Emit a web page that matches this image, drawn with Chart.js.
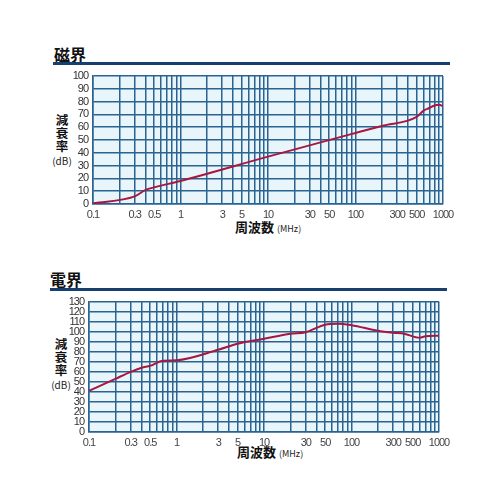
<!DOCTYPE html>
<html>
<head>
<meta charset="utf-8">
<script src="https://cdn.jsdelivr.net/npm/chart.js@4"></script>
<style>
body { margin: 0; width: 500px; height: 500px; background: #fff; position: relative; overflow: hidden;
       font-family: "Noto Sans CJK JP", sans-serif; color: #111; }
.title { position: absolute; font-size: 16px; font-weight: bold; line-height: 16px; }
.rule { position: absolute; height: 3px; background: #173f70; }
.ytitle { position: absolute; width: 30px; text-align: center; font-weight: bold; font-size: 12.5px; line-height: 13px; }
.ytitle span { display: block; font-weight: normal; font-size: 10px; line-height: 12px; margin-top: 3px; color: #222; }
.xtitle { position: absolute; font-weight: bold; font-size: 13px; line-height: 14px; white-space: nowrap; }
.xtitle span { font-weight: normal; font-size: 9px; color: #222; }
.box { position: absolute; left: 0; }
</style>
</head>
<body>
<div class="title" style="left:54px; top:46px;">磁界</div>
<div class="rule" style="left:53px; top:62px; width:397px;"></div>
<div class="ytitle" style="left:47px; top:113px;">減<br>衰<br>率<span>(dB)</span></div>
<div class="xtitle" style="left:235px; top:220px;">周波数 <span>(MHz)</span></div>
<div class="box" style="top:60px;"><canvas id="magChart" width="500" height="180"></canvas></div>

<div class="title" style="left:50px; top:271px;">電界</div>
<div class="rule" style="left:50px; top:288px; width:397px;"></div>
<div class="ytitle" style="left:46px; top:337px;">減<br>衰<br>率<span>(dB)</span></div>
<div class="xtitle" style="left:237px; top:445px;">周波数 <span>(MHz)</span></div>
<div class="box" style="top:290px;"><canvas id="elecChart" width="500" height="170"></canvas></div>

<script>
// 磁界
const freqMag = [0.1, 0.3, 0.4, 0.5, 1, 10, 100, 200, 500, 600, 700, 800, 900, 1000];
const magDb = [0.5, 6, 11, 13, 18, 37, 55.5, 61, 68, 73, 75, 77, 77.5, 76.5];

// 電界
const freqElec = [0.1, 0.2, 0.3, 0.4, 0.5, 0.7, 1, 3, 5, 10, 20, 30, 50, 70, 100, 200, 300, 400, 600, 700, 1000];
const elecDb = [41, 53, 60, 64, 66, 71, 71.5, 82, 88, 93, 98, 99.5, 107, 108, 106.5, 101, 99, 98, 94, 95.5, 96];

const xLabels = [0.1, 0.3, 0.5, 1, 3, 5, 10, 30, 50, 100, 300, 500, 1000];
const decades = [0.1, 1, 10, 100];
const steps = [1, 2, 3, 4, 5, 6, 7, 8, 9];

const gridVals = [];
decades.forEach(d => steps.forEach(k => gridVals.push(Number((k * d).toPrecision(3)))));
gridVals.push(1000);

const gridColor = '#2a6390';
const tickFont = { family: "'Liberation Sans', Arial, sans-serif", size: 11 };

// light blue plot fill + tighter digits like the printed chart
const plotBg = {
    id: 'plotBg',
    beforeDraw(chart) {
        const a = chart.chartArea;
        const c = chart.ctx;
        c.save();
        c.fillStyle = '#e8f6fc';
        c.fillRect(a.left, a.top, a.right - a.left, a.bottom - a.top);
        c.restore();
        c.letterSpacing = '-1px';
    }
};

const makeChart = (id, freqs, values, yMax, box) => {
    const ctx = document.getElementById(id).getContext('2d');
    new Chart(ctx, {
        type: 'line',
        data: {
            datasets: [{
                data: freqs.map((f, i) => ({ x: f, y: values[i] })),
                borderColor: '#a8173e',
                borderWidth: 2,
                pointRadius: 0,
                cubicInterpolationMode: 'monotone',
            }],
        },
        options: {
            responsive: false,
            animation: false,
            layout: { padding: { top: box.top, right: box.right, left: 0, bottom: 0 } },
            plugins: { legend: { display: false }, tooltip: { enabled: false } },
            scales: {
                x: {
                    type: 'logarithmic',
                    min: 0.1,
                    max: 1000,
                    afterBuildTicks: axis => { axis.ticks = gridVals.map(v => ({ value: v })); },
                    afterFit: axis => { axis.height = box.xh; },
                    grid: { color: gridColor, lineWidth: 1.5, drawTicks: false },
                    border: { color: gridColor, width: 1.5 },
                    ticks: {
                        autoSkip: false, maxRotation: 0, padding: 4,
                        font: tickFont, color: '#444',
                        callback: v => xLabels.includes(v) ? String(v) : '',
                    },
                },
                y: {
                    min: 0,
                    max: yMax,
                    afterFit: axis => { axis.width = box.yw; },
                    grid: { color: gridColor, lineWidth: 1.5, drawTicks: false },
                    border: { color: gridColor, width: 1.5 },
                    ticks: { stepSize: 10, autoSkip: false, padding: 5, font: tickFont, color: '#333' },
                },
            },
        },
        plugins: [plotBg],
    });
};

window.onload = () => {
    makeChart('magChart', freqMag, magDb, 100, { top: 16, right: 57, xh: 36, yw: 93 });
    makeChart('elecChart', freqElec, elecDb, 130, { top: 10, right: 61, xh: 28, yw: 89 });
};
</script>
</body>
</html>
